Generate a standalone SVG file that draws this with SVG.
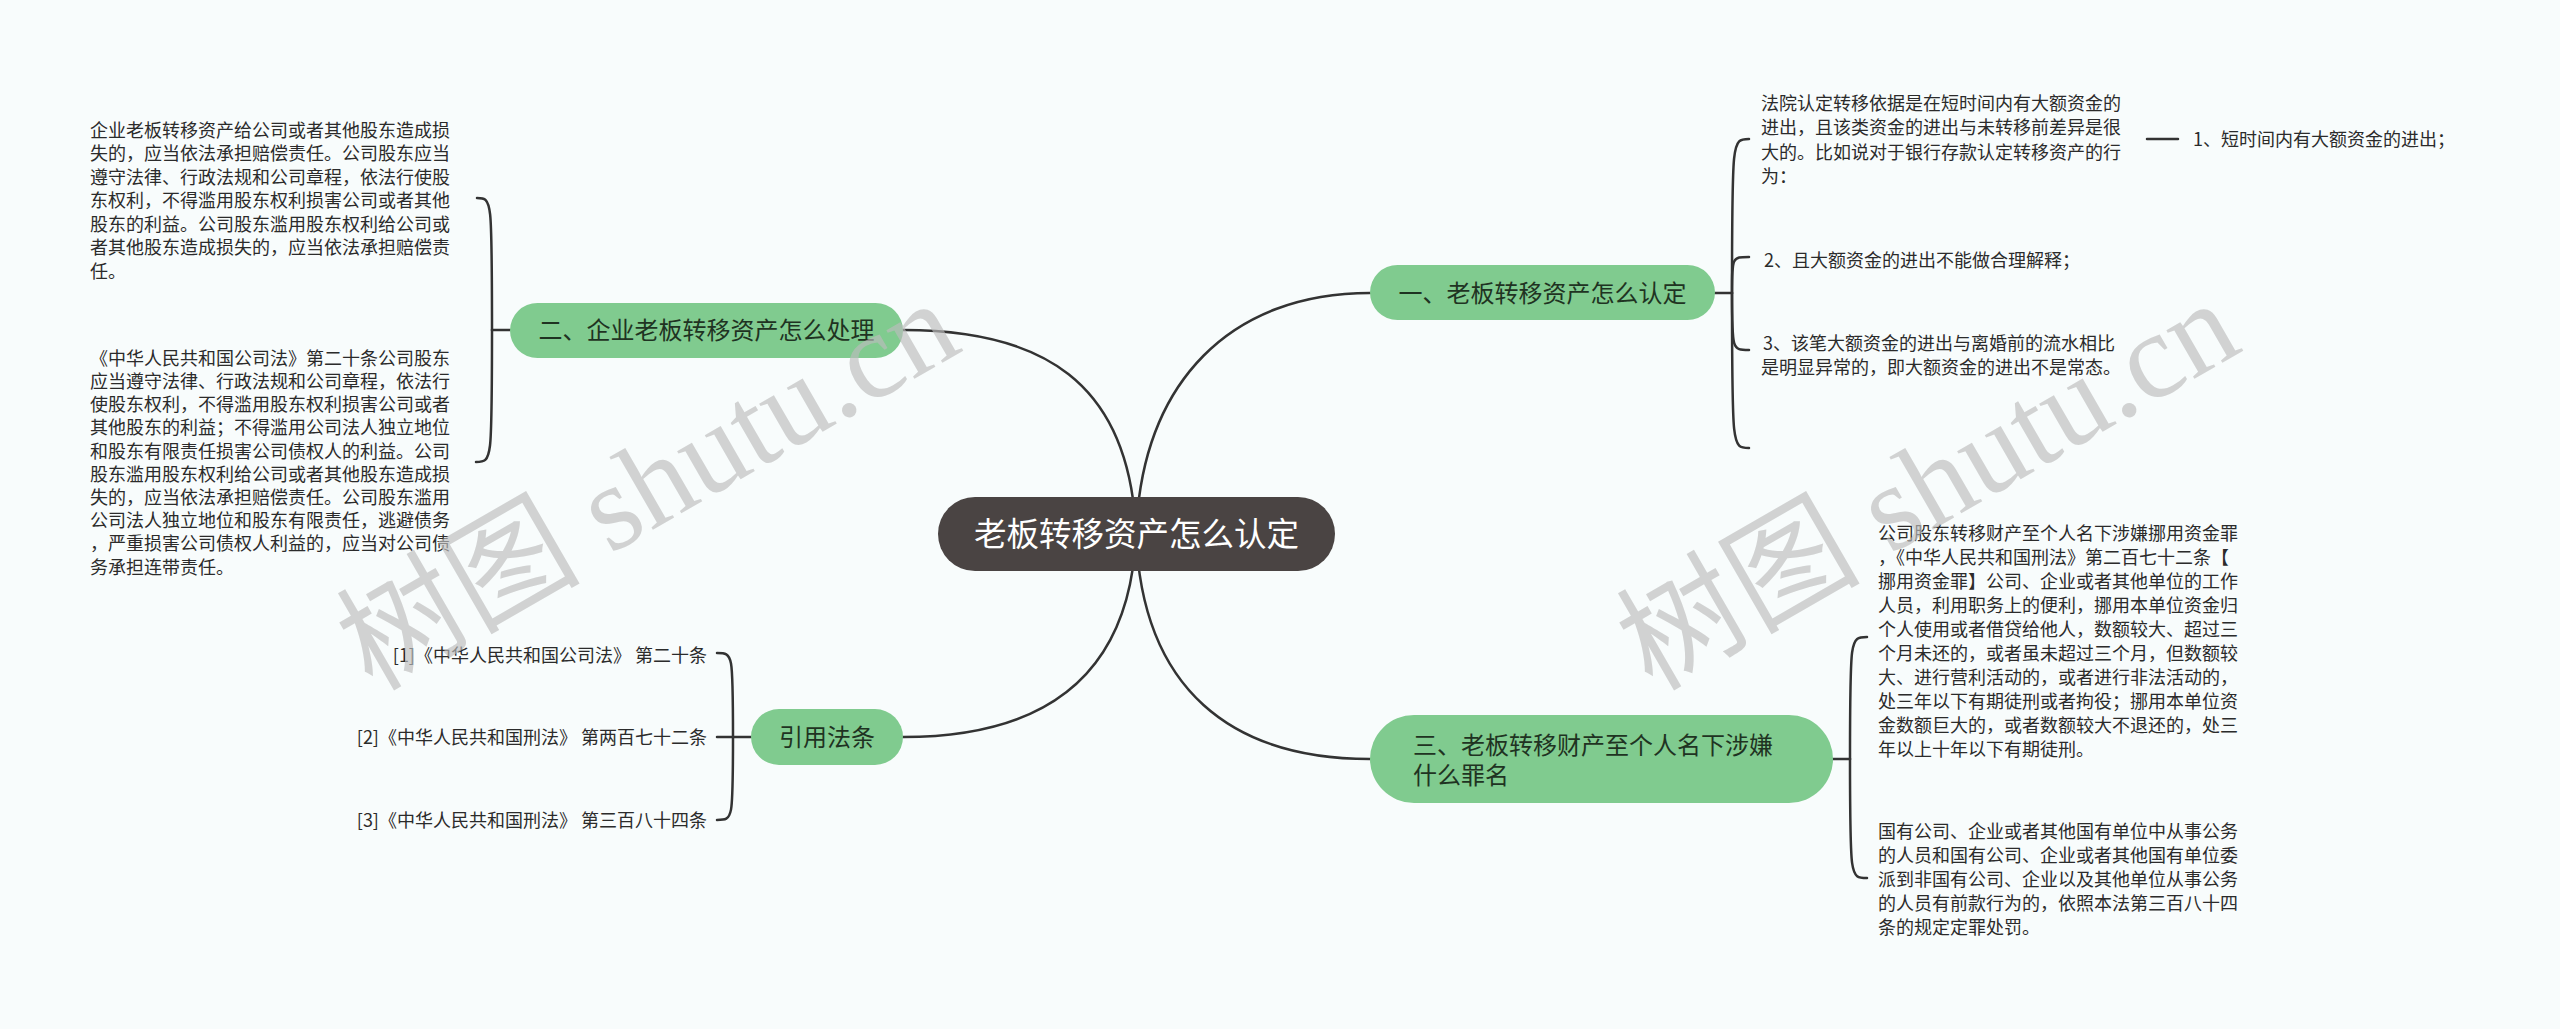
<svg xmlns="http://www.w3.org/2000/svg" width="2560" height="1029" viewBox="0 0 2560 1029">
<style>
.bg{fill:#f8fcfc}
.ln{fill:none;stroke:#333;stroke-width:2.5;stroke-linecap:round}
.g{fill:#80cb8f}
.root{fill:#4a4443}
.nt{font-family:"Noto Sans CJK SC","Noto Sans",sans-serif;font-size:24px;fill:#1f3322}
.rt{font-family:"Noto Sans CJK SC","Noto Sans",sans-serif;font-size:32.5px;fill:#ffffff}
.lt{font-family:"Noto Sans CJK SC","Noto Sans",sans-serif;font-size:18px;fill:#2b2b2b}
.wm{font-family:"Liberation Serif","Noto Sans CJK SC",serif;font-size:122px;fill:#bdbdbd;opacity:0.65}
</style>
<rect class="bg" x="0" y="0" width="2560" height="1029"/>

<g id="connectors">
  <path class="ln" d="M1136,534 C1130,380 1040,330 903,330"/>
  <path class="ln" d="M1136,534 C1142,380 1232,293 1370,293"/>
  <path class="ln" d="M1136,534 C1130,680 1040,737 903,737"/>
  <path class="ln" d="M1136,534 C1142,690 1232,759 1370,759"/>
  <path class="ln" d="M510,330 L492,330"/>
  <path class="ln" d="M492,330 C492,198 492,198 477,198"/>
  <path class="ln" d="M492,330 C492,462 492,462 476,462"/>
  <path class="ln" d="M751,737 L717,737"/>
  <path class="ln" d="M733,737 C733,653 733,653 717,653"/>
  <path class="ln" d="M733,737 C733,820 733,820 717,820"/>
  <path class="ln" d="M1715,293 L1732,293"/>
  <path class="ln" d="M1732,293 C1732,139 1732,139 1749,139"/>
  <path class="ln" d="M1732,293 C1732,257 1732,257 1749,257"/>
  <path class="ln" d="M1732,293 C1732,350 1732,350 1749,350"/>
  <path class="ln" d="M1732,293 C1732,448 1732,448 1749,448"/>
  <path class="ln" d="M2147,139 L2178,139"/>
  <path class="ln" d="M1833,759 L1850,759"/>
  <path class="ln" d="M1850,759 C1850,637 1850,637 1867,637"/>
  <path class="ln" d="M1850,759 C1850,878 1850,878 1867,878"/>
</g>

<g id="root">
  <rect class="root" x="938" y="497" width="397" height="74" rx="37"/>
  <text class="rt" x="1136.5" y="546" text-anchor="middle">老板转移资产怎么认定</text>
</g>

<g id="n2">
  <rect class="g" x="510" y="303" width="393" height="55" rx="27.5"/>
  <text class="nt" x="706.5" y="339" text-anchor="middle">二、企业老板转移资产怎么处理</text>
</g>
<g id="n2c1">
  <text class="lt" x="90" y="136.8">企业老板转移资产给公司或者其他股东造成损</text>
  <text class="lt" x="90" y="160.3">失的，应当依法承担赔偿责任。公司股东应当</text>
  <text class="lt" x="90" y="183.8">遵守法律、行政法规和公司章程，依法行使股</text>
  <text class="lt" x="90" y="207.3">东权利，不得滥用股东权利损害公司或者其他</text>
  <text class="lt" x="90" y="230.8">股东的利益。公司股东滥用股东权利给公司或</text>
  <text class="lt" x="90" y="254.3">者其他股东造成损失的，应当依法承担赔偿责</text>
  <text class="lt" x="90" y="277.8">任。</text>
</g>
<g id="n2c2">
  <text class="lt" x="90" y="364.8">《中华人民共和国公司法》第二十条公司股东</text>
  <text class="lt" x="90" y="388">应当遵守法律、行政法规和公司章程，依法行</text>
  <text class="lt" x="90" y="411.2">使股东权利，不得滥用股东权利损害公司或者</text>
  <text class="lt" x="90" y="434.4">其他股东的利益；不得滥用公司法人独立地位</text>
  <text class="lt" x="90" y="457.6">和股东有限责任损害公司债权人的利益。公司</text>
  <text class="lt" x="90" y="480.8">股东滥用股东权利给公司或者其他股东造成损</text>
  <text class="lt" x="90" y="504">失的，应当依法承担赔偿责任。公司股东滥用</text>
  <text class="lt" x="90" y="527.2">公司法人独立地位和股东有限责任，逃避债务</text>
  <text class="lt" x="90" y="550.4">，严重损害公司债权人利益的，应当对公司债</text>
  <text class="lt" x="90" y="573.6">务承担连带责任。</text>
</g>

<g id="n4">
  <rect class="g" x="751" y="709" width="152" height="56" rx="28"/>
  <text class="nt" x="827" y="746" text-anchor="middle">引用法条</text>
</g>
<g id="n4c">
  <text class="lt" x="707" y="661.8" text-anchor="end">[1]《中华人民共和国公司法》 第二十条</text>
  <text class="lt" x="707" y="743.8" text-anchor="end">[2]《中华人民共和国刑法》 第两百七十二条</text>
  <text class="lt" x="707" y="826.8" text-anchor="end">[3]《中华人民共和国刑法》 第三百八十四条</text>
</g>

<g id="n1">
  <rect class="g" x="1370" y="265" width="345" height="55" rx="27.5"/>
  <text class="nt" x="1542.5" y="302" text-anchor="middle">一、老板转移资产怎么认定</text>
</g>
<g id="n1c1">
  <text class="lt" x="1761" y="109.8">法院认定转移依据是在短时间内有大额资金的</text>
  <text class="lt" x="1761" y="134.3">进出，且该类资金的进出与未转移前差异是很</text>
  <text class="lt" x="1761" y="158.8">大的。比如说对于银行存款认定转移资产的行</text>
  <text class="lt" x="1761" y="183.3">为：</text>
</g>
<g id="n1c1a">
  <text class="lt" x="2193" y="145.8">1、短时间内有大额资金的进出；</text>
</g>
<g id="n1c2">
  <text class="lt" x="1764" y="266.8">2、且大额资金的进出不能做合理解释；</text>
</g>
<g id="n1c3">
  <text class="lt" x="1763" y="349.8">3、该笔大额资金的进出与离婚前的流水相比</text>
  <text class="lt" x="1761" y="373.8">是明显异常的，即大额资金的进出不是常态。</text>
</g>

<g id="n3">
  <rect class="g" x="1370" y="715" width="463" height="88" rx="44"/>
  <text class="nt" x="1413" y="754">三、老板转移财产至个人名下涉嫌</text>
  <text class="nt" x="1413" y="784">什么罪名</text>
</g>
<g id="n3c1">
  <text class="lt" x="1878" y="539.8">公司股东转移财产至个人名下涉嫌挪用资金罪</text>
  <text class="lt" x="1878" y="563.8">，《中华人民共和国刑法》第二百七十二条【</text>
  <text class="lt" x="1878" y="587.8">挪用资金罪】公司、企业或者其他单位的工作</text>
  <text class="lt" x="1878" y="611.8">人员，利用职务上的便利，挪用本单位资金归</text>
  <text class="lt" x="1878" y="635.8">个人使用或者借贷给他人，数额较大、超过三</text>
  <text class="lt" x="1878" y="659.8">个月未还的，或者虽未超过三个月，但数额较</text>
  <text class="lt" x="1878" y="683.8">大、进行营利活动的，或者进行非法活动的，</text>
  <text class="lt" x="1878" y="707.8">处三年以下有期徒刑或者拘役；挪用本单位资</text>
  <text class="lt" x="1878" y="731.8">金数额巨大的，或者数额较大不退还的，处三</text>
  <text class="lt" x="1878" y="755.8">年以上十年以下有期徒刑。</text>
</g>
<g id="n3c2">
  <text class="lt" x="1878" y="837.8">国有公司、企业或者其他国有单位中从事公务</text>
  <text class="lt" x="1878" y="861.8">的人员和国有公司、企业或者其他国有单位委</text>
  <text class="lt" x="1878" y="885.8">派到非国有公司、企业以及其他单位从事公务</text>
  <text class="lt" x="1878" y="909.8">的人员有前款行为的，依照本法第三百八十四</text>
  <text class="lt" x="1878" y="933.8">条的规定定罪处罚。</text>
</g>

<g id="watermark">
  <text class="wm" transform="translate(372,692) rotate(-30)">树图 shutu.cn</text>
  <text class="wm" transform="translate(1652,692) rotate(-30)">树图 shutu.cn</text>
</g>
</svg>
